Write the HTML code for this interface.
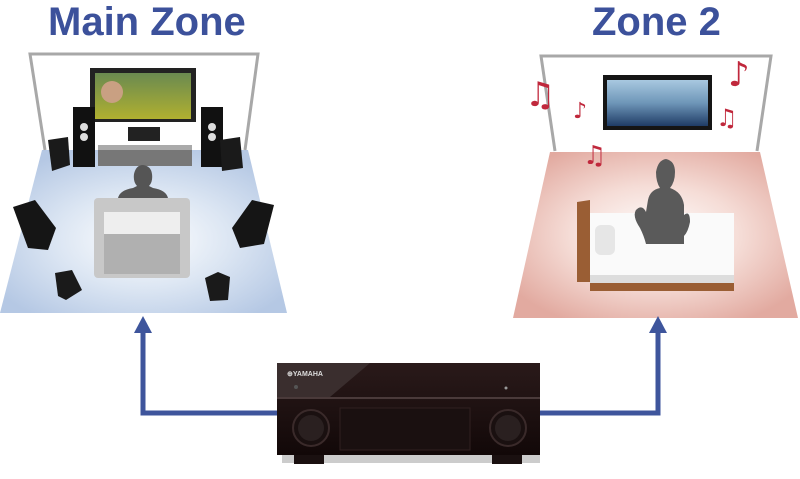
<!DOCTYPE html>
<html><head><style>
html,body{margin:0;padding:0;background:#fff;width:800px;height:479px;overflow:hidden}
svg{display:block}
</style></head><body>
<svg width="800" height="479" viewBox="0 0 800 479" xmlns="http://www.w3.org/2000/svg">
<defs>
<radialGradient id="blue" cx="0.5" cy="0.55" r="0.6"><stop offset="0" stop-color="#ffffff"/><stop offset="0.5" stop-color="#dce6f3"/><stop offset="1" stop-color="#b5c8e4"/></radialGradient>
<radialGradient id="pink" cx="0.5" cy="0.5" r="0.6"><stop offset="0" stop-color="#ffffff"/><stop offset="0.5" stop-color="#f5dcd6"/><stop offset="1" stop-color="#e2aaa0"/></radialGradient>
<linearGradient id="tv1" x1="0" y1="0" x2="0" y2="1"><stop offset="0" stop-color="#6a8a50"/><stop offset="1" stop-color="#b0b030"/></linearGradient>
<linearGradient id="tv2" x1="0" y1="0" x2="0" y2="1"><stop offset="0" stop-color="#a8c8e0"/><stop offset="0.5" stop-color="#6e96b8"/><stop offset="1" stop-color="#1f3c66"/></linearGradient>
<linearGradient id="rcv" x1="0" y1="0" x2="0" y2="1"><stop offset="0" stop-color="#2a1a1a"/><stop offset="1" stop-color="#120808"/></linearGradient>
</defs>
<text x="48" y="35" font-family="Liberation Sans, sans-serif" font-weight="bold" font-size="40" fill="#3c519b">Main Zone</text>
<text x="592" y="35" font-family="Liberation Sans, sans-serif" font-weight="bold" font-size="40" fill="#3c519b">Zone 2</text>

<!-- Main zone -->
<polygon points="42,150 248,150 287,313 0,313" fill="url(#blue)"/>
<polyline points="45,150 30,54 258,54 245,150" fill="none" stroke="#a8a8a8" stroke-width="3"/>
<rect x="90" y="68" width="106" height="54" fill="#222"/>
<rect x="95" y="73" width="96" height="46" fill="url(#tv1)"/>
<circle cx="112" cy="92" r="11" fill="#c9a082"/>
<rect x="98" y="148" width="94" height="18" fill="#777"/>
<rect x="98" y="145" width="94" height="5" fill="#aaa"/>
<rect x="128" y="127" width="32" height="14" fill="#222"/>
<rect x="73" y="107" width="22" height="60" fill="#111"/>
<rect x="201" y="107" width="22" height="60" fill="#111"/>
<circle cx="84" cy="127" r="4" fill="#ddd"/><circle cx="84" cy="137" r="4" fill="#ddd"/>
<circle cx="212" cy="127" r="4" fill="#ddd"/><circle cx="212" cy="137" r="4" fill="#ddd"/>
<polygon points="48,140 68,137 70,165 52,171" fill="#1a1a1a"/>
<polygon points="220,140 240,137 243,168 222,171" fill="#1a1a1a"/>
<polygon points="13,207 35,200 56,228 48,250 28,248" fill="#151515"/>
<polygon points="232,228 252,200 274,205 264,244 240,248" fill="#151515"/>
<polygon points="55,273 72,270 82,290 66,300 58,296" fill="#1a1a1a"/>
<polygon points="205,278 218,272 230,277 228,300 210,301" fill="#1a1a1a"/>
<path d="M118,212 L118,198 Q120,190 133,188 L137,186 Q133,182 134,174 Q136,165 143,165 Q151,166 152,174 Q153,182 149,186 L153,188 Q166,190 168,198 L168,212 Z" fill="#555"/>
<rect x="94" y="198" width="96" height="80" rx="4" fill="#c8c8c8"/>
<rect x="104" y="212" width="76" height="22" fill="#eee"/>
<rect x="104" y="234" width="76" height="40" fill="#b0b0b0"/>

<!-- Zone 2 -->
<polygon points="550,152 760,152 798,318 513,318" fill="url(#pink)"/>
<polyline points="555,151 541,56 771,56 757,151" fill="none" stroke="#a8a8a8" stroke-width="3"/>
<rect x="603" y="75" width="109" height="55" fill="#151515"/>
<rect x="607" y="80" width="101" height="46" fill="url(#tv2)"/>
<g fill="#c0283c" font-family="DejaVu Sans, sans-serif" font-size="34">
<text x="525" y="106">♫</text><text x="573" y="118" font-size="22">♪</text>
<text x="583" y="164" font-size="26">♫</text><text x="728" y="86">♪</text>
<text x="716" y="126" font-size="24">♫</text></g>
<polygon points="577,202 590,200 590,282 577,282" fill="#9a5e34"/>
<rect x="590" y="213" width="144" height="65" fill="#fafafa"/>
<rect x="590" y="275" width="144" height="8" fill="#ddd"/>
<rect x="590" y="283" width="144" height="8" fill="#9a5e34"/>
<rect x="595" y="225" width="20" height="30" rx="6" fill="#e6e6e6"/>
<path d="M646,244 Q644,236 640,228 Q632,216 636,210 Q642,204 646,212 L648,200 Q650,190 660,188 Q656,182 656,172 Q658,160 666,159 Q675,161 675,172 Q675,182 670,188 Q682,192 684,205 L684,215 Q690,210 690,222 Q688,232 684,236 L684,244 Z" fill="#5a5a5a"/>

<!-- connectors -->
<g stroke="#3e559c" stroke-width="5" fill="none">
<polyline points="143,330 143,413 280,413"/>
<polyline points="658,330 658,413 537,413"/>
</g>
<polygon points="134,333 143,316 152,333" fill="#3e559c"/>
<polygon points="649,333 658,316 667,333" fill="#3e559c"/>

<!-- receiver -->
<rect x="282" y="453" width="258" height="10" fill="#aaa" opacity="0.6"/>
<rect x="277" y="363" width="263" height="92" fill="url(#rcv)"/>
<polygon points="277,363 370,363 330,397 277,397" fill="#3a2e2e"/>
<line x1="277" y1="398" x2="540" y2="398" stroke="#4a3a3a" stroke-width="2"/>
<text x="287" y="376" font-family="Liberation Sans, sans-serif" font-weight="bold" font-size="7" fill="#ddd">⊕YAMAHA</text>
<circle cx="296" cy="387" r="2" fill="#555"/>
<circle cx="506" cy="388" r="1.5" fill="#999"/>
<rect x="340" y="408" width="130" height="42" fill="#1a1010" stroke="#302020"/>
<circle cx="311" cy="428" r="18" fill="#1a1010" stroke="#3a2a2a" stroke-width="2"/>
<circle cx="311" cy="428" r="13" fill="#2a2020"/>
<circle cx="508" cy="428" r="18" fill="#1a1010" stroke="#3a2a2a" stroke-width="2"/>
<circle cx="508" cy="428" r="13" fill="#2a2020"/>
<rect x="294" y="455" width="30" height="9" fill="#1a1010"/>
<rect x="492" y="455" width="30" height="9" fill="#1a1010"/>
</svg>
</body></html>
